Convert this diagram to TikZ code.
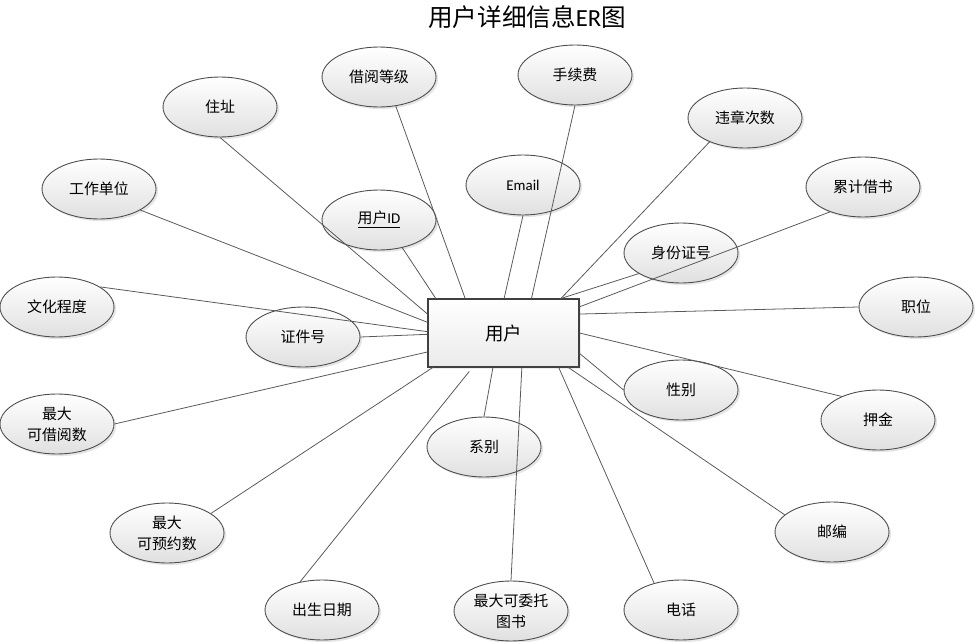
\documentclass[tikz,border=0pt]{standalone}
\usepackage{fontspec}
\setmainfont{Carlito}
\newfontfamily\cjk{Noto Sans CJK SC}
\newfontfamily\latin{Carlito}
\usetikzlibrary{shapes.geometric,shadows}

\tikzset{
  attr/.style={ellipse,draw=black!70,line width=0.5pt,top color=white,bottom color=black!12,
    minimum width=2.28cm,minimum height=1.2cm,inner sep=0pt,align=center,
    font=\cjk\fontsize{8.5}{12}\selectfont,
    drop shadow={shadow xshift=1.2pt,shadow yshift=-1.2pt,fill=black!20,opacity=0.5}},
  entity/.style={rectangle,draw=black!75,line width=0.6pt,top color=white,bottom color=black!8,
    minimum width=3.02cm,minimum height=1.36cm,inner sep=0pt,
    font=\cjk\fontsize{10.5}{12}\selectfont,
    drop shadow={shadow xshift=1.2pt,shadow yshift=-1.2pt,fill=black!15,opacity=0.5}},
  link/.style={draw=black!65,line width=0.45pt}
}

\begin{document}
\begin{tikzpicture}[x=0.02cm,y=-0.02cm]
  \useasboundingbox (0,0) rectangle (975,642);

  \node[font=\cjk\fontsize{14}{16}\selectfont] (title) at (527,17) {用户详细信息{\latin ER}图};

  \node[entity] (user) at (503.5,333) {用户};

  \node[attr] (addr) at (220,107) {住址};
  \node[attr] (level) at (379,77) {借阅等级};
  \node[attr] (fee) at (575,75) {手续费};
  \node[attr] (violate) at (745,118) {违章次数};
  \node[attr] (work) at (99,189) {工作单位};
  \node[attr,font=\latin\fontsize{8.5}{12}\selectfont] (email) at (523,185) {Email};
  \node[attr] (borrowed) at (863,187) {累计借书};
  \node[attr] (uid) at (379,220) {\underline{用户{\latin ID}}};
  \node[attr] (idcard) at (681,253) {身份证号};
  \node[attr] (edu) at (57,307) {文化程度};
  \node[attr] (post) at (916,307) {职位};
  \node[attr] (certno) at (303,337) {证件号};
  \node[attr] (gender) at (681,390) {性别};
  \node[attr] (maxborrow) at (57,424) {最大\\可借阅数};
  \node[attr] (deposit) at (878,420) {押金};
  \node[attr] (dept) at (484,447) {系别};
  \node[attr] (maxreserve) at (167,533) {最大\\可预约数};
  \node[attr] (zip) at (832,532) {邮编};
  \node[attr] (birth) at (322,610) {出生日期};
  \node[attr] (maxentrust) at (511,611) {最大可委托\\图书};
  \node[attr] (phone) at (681,610) {电话};

  \draw[link] (addr.270) -- (user.166);
  \draw[link] (level.300) -- (user.138);
  \draw[link] (fee.270) -- (user.51);
  \draw[link] (violate.214) -- (user.31);
  \draw[link] (work.333) -- (user.172);
  \draw[link] (email.270) -- (user.89);
  \draw[link] (borrowed.217) -- (user.19);
  \draw[link] (uid.310) -- (user.153);
  \draw[link] (idcard.206) -- (user.31);
  \draw[link] (edu.25) -- (user.179);
  \draw[link] (post.180) -- (user.14);
  \draw[link] (certno.0) -- (user.181);
  \draw[link] (gender.180) -- (user.345);
  \draw[link] (maxborrow.0) -- (user.194);
  \draw[link] (deposit.147) -- (user.0);
  \draw[link] (dept.90) -- (user.253);
  \draw[link] (maxreserve.24) -- (user.206);
  \draw[link] (zip.160) -- (user.332);
  \draw[link,shorten >=0.1cm] (birth.128) -- (user.228);
  \draw[link] (maxentrust.90) -- (user.298);
  \draw[link] (phone.135) -- (user.328);
\end{tikzpicture}
\end{document}
